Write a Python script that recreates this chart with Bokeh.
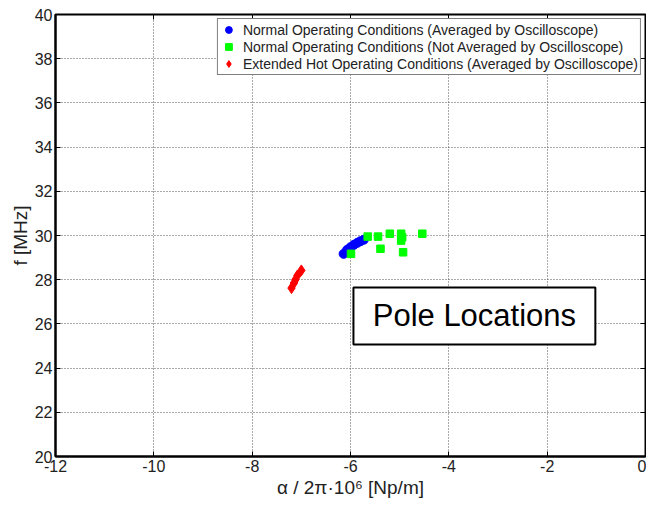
from bokeh.plotting import figure
from bokeh.models import (Range1d, FixedTicker, LinearAxis, Legend, LegendItem,
                          BoxAnnotation, Label)
from bokeh.embed import file_html
from bokeh.resources import INLINE

# ---- data ----
blue_x = [-6.14, -6.07, -6.00, -5.93, -5.86, -5.80, -5.73]
blue_y = [29.17, 29.35, 29.47, 29.58, 29.67, 29.74, 29.81]

green_x = [-5.99, -5.65, -5.44, -5.20, -4.97, -4.95, -4.97, -5.39, -4.93, -4.54]
green_y = [29.17, 29.95, 29.95, 30.08, 30.08, 29.92, 29.77, 29.40, 29.24, 30.08]

red_x = [-7.20, -7.15, -7.12, -7.08, -7.00]
red_y = [27.62, 27.85, 28.00, 28.19, 28.42]

x_ticks = [-12, -10, -8, -6, -4, -2, 0]
x_tick_labels = ["-12", "-10", "-8", "-6", "-4", "-2", "0"]
y_ticks = [20, 22, 24, 26, 28, 30, 32, 34, 36, 38, 40]

labels = ["Normal Operating Conditions (Averaged by Oscilloscope)",
          "Normal Operating Conditions (Not Averaged by Oscilloscope)",
          "Extended Hot Operating Conditions (Averaged by Oscilloscope)"]

FONT = "Liberation Sans"

p = figure(width=646, height=502, output_backend="svg", toolbar_location=None,
           x_range=Range1d(-12, 0), y_range=Range1d(20, 40),
           min_border_left=55, min_border_right=1, min_border_top=14,
           min_border_bottom=46, background_fill_color="white",
           border_fill_color="white")

p.outline_line_color = "black"
p.outline_line_width = 2

for ax in (p.xaxis[0], p.yaxis[0]):
    ax.axis_line_color = "black"
    ax.axis_line_width = 2
    ax.major_tick_in = 5
    ax.major_tick_out = 0
    ax.minor_tick_line_color = None
    ax.major_label_text_font = FONT
    ax.major_label_text_font_size = "16px"
    ax.major_label_text_color = "#222222"
    ax.axis_label_text_font = FONT
    ax.axis_label_text_font_size = "19px"
    ax.axis_label_text_font_style = "normal"
    ax.axis_label_text_color = "#222222"

p.xaxis[0].ticker = FixedTicker(ticks=x_ticks)
p.xaxis[0].major_label_overrides = dict(zip(x_ticks, x_tick_labels))
p.yaxis[0].ticker = FixedTicker(ticks=y_ticks)
p.xaxis[0].axis_label = "α / 2π·10⁶ [Np/m]"
p.yaxis[0].axis_label = "f [MHz]"
p.xaxis[0].major_label_standoff = 3
p.yaxis[0].major_label_standoff = 3
p.xaxis[0].axis_label_standoff = 2
p.yaxis[0].axis_label_standoff = 1

# top and right axes: inward ticks only, labels not painted
top = LinearAxis(ticker=FixedTicker(ticks=x_ticks), major_label_text_font_size="0px",
                 major_label_text_color=None,
                 major_tick_in=5, major_tick_out=0, minor_tick_line_color=None,
                 axis_line_color=None, major_label_standoff=0)
right = LinearAxis(ticker=FixedTicker(ticks=y_ticks), major_label_text_font_size="0px",
                   major_label_text_color=None,
                   major_tick_in=5, major_tick_out=0, minor_tick_line_color=None,
                   axis_line_color=None, major_label_standoff=0)
p.add_layout(top, "above")
p.add_layout(right, "right")

p.xgrid[0].ticker = FixedTicker(ticks=x_ticks)
p.ygrid[0].ticker = FixedTicker(ticks=y_ticks)
for g in (p.xgrid[0], p.ygrid[0]):
    g.grid_line_color = "#555555"
    g.grid_line_dash = "1 2"
    g.grid_line_width = 1

rb = p.scatter(blue_x, blue_y, marker="circle", size=9, color="#0000ff")
rg = p.scatter(green_x, green_y, marker="square", size=7.5, color="#00ff00")
rr = p.scatter(red_x, red_y, marker="diamond", size=11, color="#ff0000")

legend = Legend(items=[LegendItem(label=labels[0], renderers=[rb]),
                       LegendItem(label=labels[1], renderers=[rg]),
                       LegendItem(label=labels[2], renderers=[rr])],
                location="top_right", margin=4, padding=2, spacing=0,
                label_text_font=FONT, label_text_font_size="14px",
                label_text_color="#222222", label_height=15, glyph_height=17,
                glyph_width=17, label_standoff=6,
                border_line_color="black", border_line_width=1,
                background_fill_alpha=1.0)
p.add_layout(legend, "center")

box = BoxAnnotation(left=-5.94, right=-1.02, bottom=25.07, top=27.65,
                    fill_color="white", fill_alpha=1.0,
                    line_color="black", line_alpha=1.0, line_width=2)
p.add_layout(box)
p.add_layout(Label(x=-3.48, y=26.36, text="Pole Locations", text_align="center",
                   text_baseline="middle", text_font=FONT, text_font_size="31px",
                   text_color="black"))

open("out.html", "w").write(file_html(p, INLINE))
